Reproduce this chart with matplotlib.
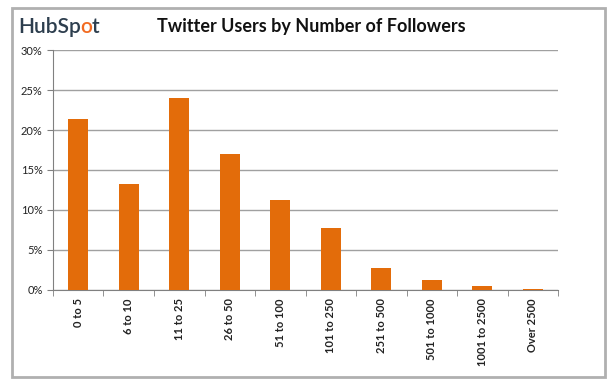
import matplotlib
matplotlib.use('Agg')
import matplotlib.pyplot as plt
import numpy as np
from matplotlib.patches import Rectangle
from matplotlib.ticker import MultipleLocator, PercentFormatter

plt.rcParams['font.family'] = ['Lato', 'DejaVu Sans']

categories = ['0 to 5', '6 to 10', '11 to 25', '26 to 50', '51 to 100',
              '101 to 250', '251 to 500', '501 to 1000', '1001 to 2500', 'Over 2500']
shares = [21.4, 13.25, 24.0, 17.0, 11.3, 7.8, 2.75, 1.3, 0.5, 0.1]

orange = '#E36C0A'

fig = plt.figure(figsize=(6.16, 3.85), dpi=100)
ax = fig.add_axes([0.086, 0.247, 0.820, 0.623])

x = np.arange(len(categories))
ax.bar(x, shares, width=0.4, color=orange, zorder=3)

ax.set_xlim(-0.5, len(categories) - 0.5)
ax.set_ylim(0, 30)
ax.yaxis.set_major_locator(MultipleLocator(5))
ax.yaxis.set_major_formatter(PercentFormatter(decimals=0))
ax.grid(True, axis='y', color='#a0a0a0', linewidth=1, zorder=0)

ax.set_xticks(x)
ax.set_xticklabels(categories, rotation=90, fontweight='bold', fontsize=8, color='#222222')
ax.set_xticks(np.arange(-0.5, len(categories)), minor=True)
ax.tick_params(axis='x', which='major', length=0, pad=6)
ax.tick_params(axis='x', which='minor', length=4, color='#808080')
ax.tick_params(axis='y', length=4, color='#808080', labelsize=8, labelcolor='#222222')

for side in ['top', 'right']:
    ax.spines[side].set_visible(False)
for side in ['left', 'bottom']:
    ax.spines[side].set_color('#808080')

# chart frame
fig.patches.append(Rectangle((12 / 616, 8 / 385), 593 / 616, 369 / 385,
                             transform=fig.transFigure, fill=False,
                             edgecolor='#b0b0b0', linewidth=2))

fig.text(0.505, 0.93, 'Twitter Users by Number of Followers', ha='center', va='center',
         fontsize=13, fontweight='bold', color='#111111')

# logo: "HubSp" + orange "o" + "t", laid out from measured widths
logo_x, logo_y = 0.030, 0.93
logo_kw = dict(ha='left', va='center', fontsize=15, fontweight='semibold')
renderer = fig.canvas.get_renderer()


def text_width(s):
    t = fig.text(0, 0, s, **logo_kw)
    w = t.get_window_extent(renderer).width
    t.remove()
    return w / fig.bbox.width


nudge = 1.5 / 616
extra = text_width('HubSp') + text_width('o') - text_width('HubSpo')
o_x = logo_x + text_width('HubSp') - extra - nudge
t_x = logo_x + text_width('HubSpo') - extra - nudge
fig.text(logo_x, logo_y, 'HubSp', color='#2d3e4e', **logo_kw)
fig.text(o_x, logo_y, 'o', color='#F26B21', **logo_kw)
fig.text(t_x, logo_y, 't', color='#2d3e4e', **logo_kw)

fig.savefig('out.png', dpi=100)
